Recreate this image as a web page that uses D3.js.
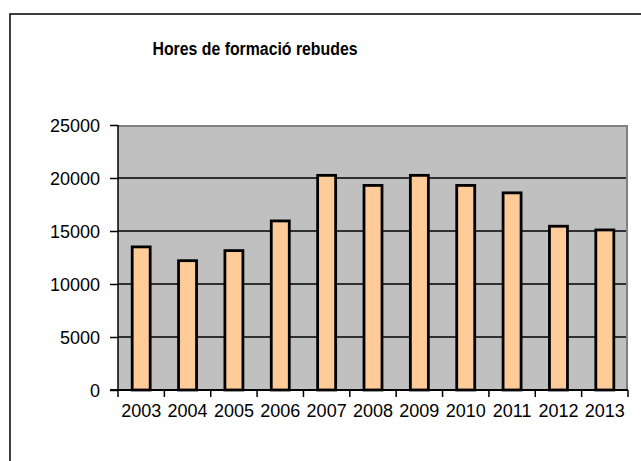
<!DOCTYPE html>
<html>
<head>
<meta charset="utf-8">
<script src="https://cdn.jsdelivr.net/npm/d3@7"></script>
<style>
  body { margin: 0; background: #fff; }
  svg text { font-family: "Liberation Sans", Arial, sans-serif; fill: #000; }
</style>
</head>
<body>
<script>
// chart data
var years = ['2003','2004','2005','2006','2007','2008','2009','2010','2011','2012','2013'];
var hores = [13500, 12200, 13150, 15950, 20250, 19300, 20250, 19300, 18600, 15450, 15100];
var yTicks = [0, 5000, 10000, 15000, 20000, 25000];
var title = 'Hores de formació rebudes';

var W = 641, H = 461;
var plot = {left: 118, right: 628, top: 125, bottom: 390};

var svg = d3.select('body').append('svg')
  .attr('width', W).attr('height', H);

// outer frame (only top and left visible in the picture)
svg.append('rect')
  .attr('x', 10).attr('y', 14)
  .attr('width', W + 20).attr('height', H + 20)
  .attr('fill', 'none').attr('stroke', '#000').attr('stroke-width', 1.5);

var x = d3.scaleBand().domain(years).range([plot.left, plot.right]);
var y = d3.scaleLinear().domain([0, 25000]).range([plot.bottom, plot.top]);

// plot area
svg.append('rect')
  .attr('x', plot.left).attr('y', plot.top)
  .attr('width', plot.right - plot.left).attr('height', plot.bottom - plot.top)
  .attr('fill', '#c0c0c0');
svg.append('path')
  .attr('d', 'M' + plot.left + ',' + (plot.top + 1) + 'H' + (plot.right - 1) + 'V' + plot.bottom)
  .attr('fill', 'none').attr('stroke', '#808080').attr('stroke-width', 2);

// gridlines
svg.append('g').selectAll('line')
  .data(yTicks.filter(function(d) { return d > 0 && d < 25000; }))
  .join('line')
  .attr('x1', plot.left).attr('x2', plot.right - 2)
  .attr('y1', function(d) { return y(d); }).attr('y2', function(d) { return y(d); })
  .attr('stroke', '#000').attr('stroke-width', 1.5);

// bars
var bw = 18;
svg.append('g').selectAll('rect')
  .data(hores)
  .join('rect')
  .attr('x', function(d, i) { return x(years[i]) + x.bandwidth() / 2 - bw / 2; })
  .attr('y', function(d) { return y(d); })
  .attr('width', bw)
  .attr('height', function(d) { return plot.bottom - y(d); })
  .attr('fill', '#ffcc99').attr('stroke', '#000').attr('stroke-width', 2.8);

// y axis
var yAxis = d3.axisLeft(y).tickValues(yTicks).tickSize(8).tickPadding(10).tickFormat(d3.format('d'));
var gy = svg.append('g').attr('transform', 'translate(' + plot.left + ',0)').call(yAxis);
gy.select('.domain').attr('stroke', '#000').attr('stroke-width', 1.5).attr('d', 'M0,' + plot.top + 'V' + plot.bottom);
gy.selectAll('.tick line').attr('stroke', '#000').attr('stroke-width', 1.5);
gy.selectAll('.tick text').attr('font-size', '18px').attr('dy', '0.36em');

// x axis, ticks between categories
var gx = svg.append('g').attr('transform', 'translate(0,' + plot.bottom + ')');
gx.append('line')
  .attr('x1', plot.left - 8).attr('x2', plot.right)
  .attr('stroke', '#000').attr('stroke-width', 2);
gx.selectAll('line.tk')
  .data(years.concat(['end']))
  .join('line').attr('class', 'tk')
  .attr('x1', function(d, i) { return plot.left + i * x.step(); })
  .attr('x2', function(d, i) { return plot.left + i * x.step(); })
  .attr('y1', 0).attr('y2', 7)
  .attr('stroke', '#000').attr('stroke-width', 1.5);
gx.selectAll('text')
  .data(years)
  .join('text')
  .attr('x', function(d) { return x(d) + x.bandwidth() / 2; })
  .attr('y', 27)
  .attr('text-anchor', 'middle')
  .attr('font-size', '18px')
  .text(function(d) { return d; });

// title
svg.append('text')
  .attr('x', 255).attr('y', 55)
  .attr('text-anchor', 'middle')
  .attr('font-size', '18px').attr('font-weight', 'bold')
  .attr('textLength', 205).attr('lengthAdjust', 'spacingAndGlyphs')
  .text(title);
</script>
</body>
</html>
